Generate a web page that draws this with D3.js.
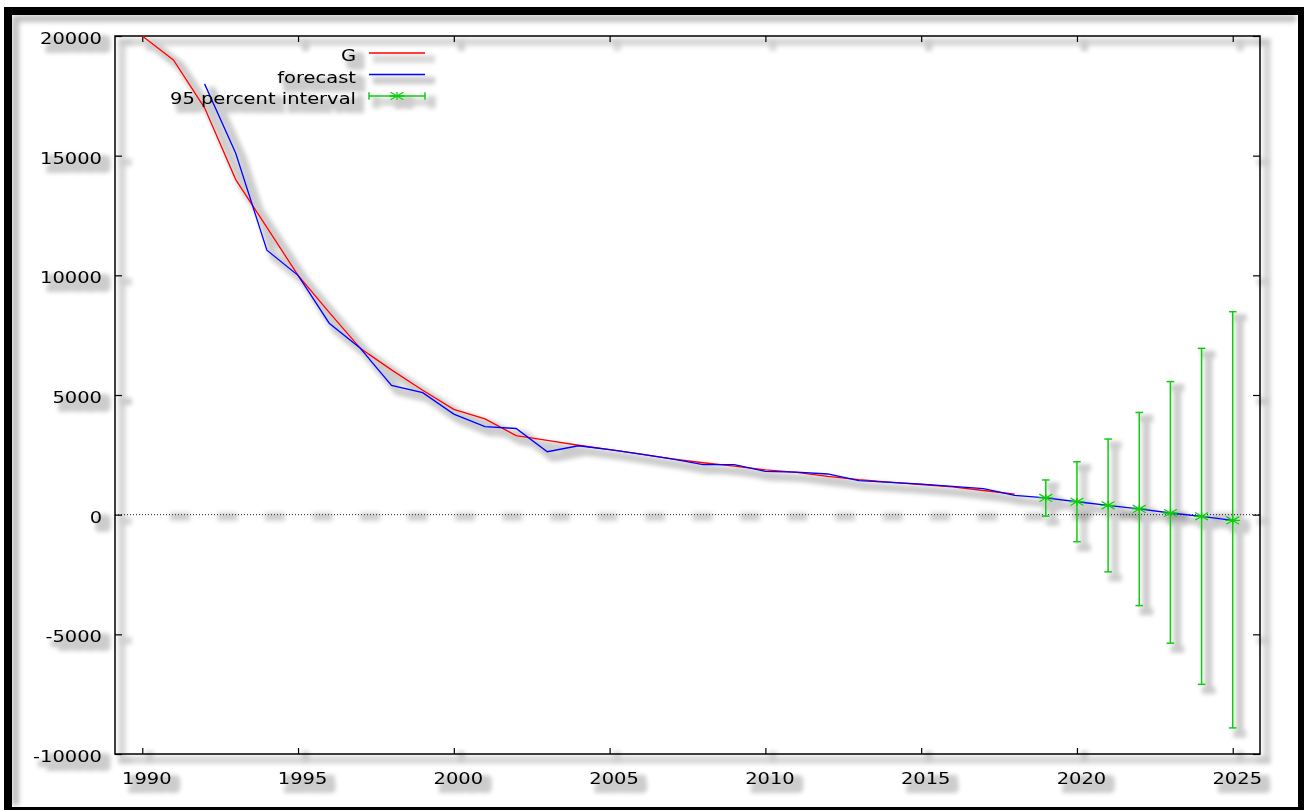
<!DOCTYPE html>
<html>
<head>
<meta charset="UTF-8">
<style>
  body { margin: 0; background: #fff; }
  svg { display: block; font-family: "DejaVu Sans", sans-serif; }
</style>
</head>
<body>
<svg></svg>
<script src="https://d3js.org/d3.v7.min.js"></script>
<script>
// observed series G
const gYears = [1990, 1991, 1992, 1993, 1994, 1995, 1996, 1997, 1998, 1999,
                2000, 2001, 2002, 2003, 2004, 2005, 2006, 2007, 2008, 2009,
                2010, 2011, 2012, 2013, 2014, 2015, 2016, 2017, 2018];
const gValues = [20000, 19000, 17000, 14000, 12000, 10000, 8450, 6950, 6050, 5200,
                 4400, 4000, 3300, 3100, 2900, 2720, 2530, 2330, 2170, 2030,
                 1870, 1770, 1600, 1460, 1360, 1260, 1160, 1010, 860];

// one-step / out-of-sample forecast
const fYears = [1992, 1993, 1994, 1995, 1996, 1997, 1998, 1999, 2000, 2001,
                2002, 2003, 2004, 2005, 2006, 2007, 2008, 2009, 2010, 2011,
                2012, 2013, 2014, 2015, 2016, 2017, 2018, 2019, 2020, 2021,
                2022, 2023, 2024, 2025];
const fValues = [18000, 15100, 11050, 10000, 8000, 6950, 5400, 5100, 4200, 3680,
                 3600, 2630, 2880, 2720, 2530, 2330, 2090, 2090, 1810, 1780,
                 1700, 1420, 1350, 1280, 1180, 1090, 810, 700, 540, 390,
                 240, 70, -70, -240];

// 95 percent interval
const ciYears = [2019, 2020, 2021, 2022, 2023, 2024, 2025];
const ciLower = [-60, -1130, -2390, -3800, -5370, -7090, -8910];
const ciUpper = [1450, 2210, 3160, 4270, 5560, 6950, 8480];

const xTicks = [1990, 1995, 2000, 2005, 2010, 2015, 2020, 2025];
const yTicks = [-10000, -5000, 0, 5000, 10000, 15000, 20000];
const legendNames = ["G", "forecast", "95 percent interval"];

let width = 1304, height = 810;
let svg = d3.select("svg").attr("width", width).attr("height", height);

let x = d3.scaleLinear().domain([1989.125, 2025.875]).range([115, 1260]);
let y = d3.scaleLinear().domain([-10000, 20000]).range([754, 36]);

// drop shadow, like the original picture
let defs = svg.append("defs");
let f = defs.append("filter").attr("id", "shadow")
    .attr("filterUnits", "userSpaceOnUse")
    .attr("x", 0).attr("y", 0).attr("width", width).attr("height", height);
f.append("feMorphology").attr("in", "SourceAlpha").attr("operator", "dilate").attr("radius", 2.5).attr("result", "d");
f.append("feGaussianBlur").attr("in", "d").attr("stdDeviation", 2).attr("result", "b");
f.append("feOffset").attr("in", "b").attr("dx", 7).attr("dy", 6).attr("result", "o");
f.append("feComponentTransfer").attr("in", "o").attr("result", "s")
    .append("feFuncA").attr("type", "linear").attr("slope", 0.2);
let m = f.append("feMerge");
m.append("feMergeNode").attr("in", "s");
m.append("feMergeNode").attr("in", "SourceGraphic");

let blur = defs.append("filter").attr("id", "blur")
    .attr("filterUnits", "userSpaceOnUse")
    .attr("x", 0).attr("y", 0).attr("width", width).attr("height", height);
blur.append("feGaussianBlur").attr("stdDeviation", 2.5);

// frame
svg.append("rect").attr("x", 4).attr("y", 7).attr("width", 1300).attr("height", 806).attr("fill", "#000");
svg.append("rect").attr("x", 12).attr("y", 15).attr("width", 1286).attr("height", 792).attr("fill", "#fff");
let fs = svg.append("g").attr("filter", "url(#blur)").attr("fill", "#000").attr("opacity", 0.25);
fs.append("rect").attr("x", 12).attr("y", 15).attr("width", 1284).attr("height", 7);
fs.append("rect").attr("x", 12).attr("y", 15).attr("width", 7).attr("height", 790);

// zero line (dotted) with its blotchy shadow
svg.append("line")
    .attr("x1", 170).attr("x2", 1250).attr("y1", y(0) + 2).attr("y2", y(0) + 2)
    .attr("stroke", "#000").attr("stroke-opacity", 0.22).attr("stroke-width", 7)
    .attr("stroke-dasharray", "20 27.5").attr("filter", "url(#blur)");
svg.append("line")
    .attr("x1", 115).attr("x2", 1260).attr("y1", y(0)).attr("y2", y(0))
    .attr("stroke", "#222").attr("stroke-width", 1).attr("stroke-dasharray", "1 2");

let chart = svg.append("g").attr("filter", "url(#shadow)");

// axes
function stretch(sel) {
    sel.each(function () {
        let w = this.getComputedTextLength();
        d3.select(this).attr("textLength", w * 1.18).attr("lengthAdjust", "spacingAndGlyphs");
    });
}
const plain = d => String(d);

let axB = chart.append("g").attr("transform", "translate(0,754)")
    .call(d3.axisBottom(x).tickValues(xTicks).tickFormat(plain).tickSize(-6).tickSizeOuter(0).tickPadding(18));
let axL = chart.append("g").attr("transform", "translate(115,0)")
    .call(d3.axisLeft(y).tickValues(yTicks).tickFormat(plain).tickSize(-7).tickSizeOuter(0).tickPadding(13));
let axT = chart.append("g").attr("transform", "translate(0,36)")
    .call(d3.axisTop(x).tickValues(xTicks).tickFormat("").tickSize(-6).tickSizeOuter(0));
let axR = chart.append("g").attr("transform", "translate(1260,0)")
    .call(d3.axisRight(y).tickValues(yTicks).tickFormat("").tickSize(-7).tickSizeOuter(0));

[axB, axL, axT, axR].forEach(a => {
    a.select(".domain").remove();
    a.selectAll("line").attr("stroke", "#000").attr("stroke-width", 1.2);
    a.selectAll("text").attr("fill", "#000").style("font-size", "16.5px").attr("font-family", "DejaVu Sans");
});
axB.selectAll("text").attr("dx", 4);
axL.selectAll("text").attr("dy", "0.45em");
stretch(axB.selectAll("text"));
stretch(axL.selectAll("text"));

chart.append("rect")
    .attr("x", 115).attr("y", 36).attr("width", 1145).attr("height", 718)
    .attr("fill", "none").attr("stroke", "#000").attr("stroke-width", 1.5);

// series
let line = d3.line().x(d => x(d[0])).y(d => y(d[1]));

chart.append("path")
    .datum(gYears.map((d, i) => [d, gValues[i]]))
    .attr("d", line).attr("fill", "none").attr("stroke", "#ff0000").attr("stroke-width", 1.3);

chart.append("path")
    .datum(fYears.map((d, i) => [d, fValues[i]]))
    .attr("d", line).attr("fill", "none").attr("stroke", "#0000ff").attr("stroke-width", 1.3);

// error bars + star points
const green = "#11cc11";
function star(g, cx, cy) {
    g.append("path")
        .attr("d", `M${cx - 7.5},${cy}H${cx + 7.5}M${cx - 6.5},${cy - 3.8}L${cx + 6.5},${cy + 3.8}M${cx - 6.5},${cy + 3.8}L${cx + 6.5},${cy - 3.8}M${cx},${cy - 4}V${cy + 4}`)
        .attr("stroke", green).attr("stroke-width", 1.3).attr("fill", "none");
}

let bars = chart.append("g");
ciYears.forEach((yr, i) => {
    let cx = x(yr);
    let g = bars.append("g");
    g.append("line").attr("x1", cx).attr("x2", cx).attr("y1", y(ciLower[i])).attr("y2", y(ciUpper[i]))
        .attr("stroke", green).attr("stroke-width", 1.5);
    [ciLower[i], ciUpper[i]].forEach(v => {
        g.append("line").attr("x1", cx - 3.8).attr("x2", cx + 3.8).attr("y1", y(v)).attr("y2", y(v))
            .attr("stroke", green).attr("stroke-width", 1.5);
    });
    star(g, cx, y(fValues[fYears.indexOf(yr)]));
});

// legend
let legend = chart.append("g");
legendNames.forEach((name, i) => {
    let ly = 53 + i * 21.5;
    let t = legend.append("text")
        .attr("x", 356).attr("y", ly + 8)
        .attr("text-anchor", "end")
        .style("font-size", "16.5px")
        .text(name);
    stretch(t);
    if (i < 2) {
        legend.append("line").attr("x1", 369).attr("x2", 425).attr("y1", ly).attr("y2", ly)
            .attr("stroke", i === 0 ? "#ff0000" : "#0000ff").attr("stroke-width", 1.3);
    } else {
        legend.append("line").attr("x1", 369).attr("x2", 425).attr("y1", ly).attr("y2", ly)
            .attr("stroke", green).attr("stroke-width", 1.5);
        [369, 425].forEach(cx => {
            legend.append("line").attr("x1", cx).attr("x2", cx).attr("y1", ly - 3.8).attr("y2", ly + 3.8)
                .attr("stroke", green).attr("stroke-width", 1.5);
        });
        star(legend, 397, ly);
    }
});
</script>
</body>
</html>
